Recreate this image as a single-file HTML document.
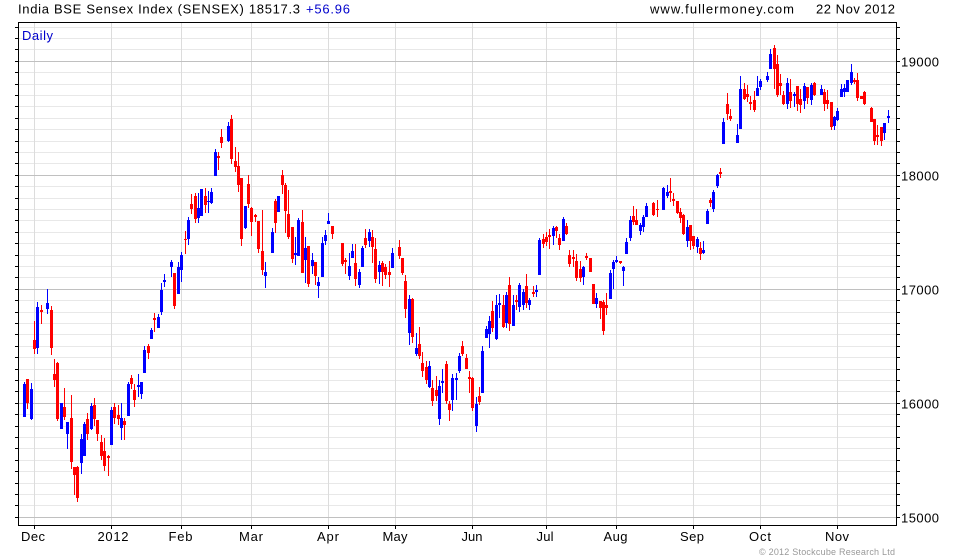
<!DOCTYPE html>
<html><head><meta charset="utf-8"><style>
html,body{margin:0;padding:0;background:#fff;}
svg{display:block;font-family:"Liberation Sans",Arial,sans-serif;}
</style></head><body>
<svg width="980" height="560" viewBox="0 0 980 560" xmlns="http://www.w3.org/2000/svg">
<rect width="980" height="560" fill="#fff"/>
<g shape-rendering="crispEdges" fill="none">
<path stroke="#e8e8e8" stroke-width="1" d="M18 27.5H896M18 38.5H896M18 49.5H896M18 72.5H896M18 84.5H896M18 95.5H896M18 106.5H896M18 118.5H896M18 129.5H896M18 141.5H896M18 152.5H896M18 163.5H896M18 186.5H896M18 198.5H896M18 209.5H896M18 220.5H896M18 232.5H896M18 243.5H896M18 255.5H896M18 266.5H896M18 277.5H896M18 300.5H896M18 312.5H896M18 323.5H896M18 334.5H896M18 346.5H896M18 357.5H896M18 369.5H896M18 380.5H896M18 391.5H896M18 414.5H896M18 426.5H896M18 437.5H896M18 448.5H896M18 460.5H896M18 471.5H896M18 483.5H896M18 494.5H896M18 505.5H896"/>
<path stroke="#dcdcdc" stroke-width="1" d="M34.5 22V525M111.5 22V525M181.5 22V525M251.5 22V525M328.5 22V525M395.5 22V525M472.5 22V525M546.5 22V525M616.5 22V525M693.5 22V525M760.5 22V525M837.5 22V525"/>
<path stroke="#c0c0c0" stroke-width="1" d="M18 61.5H896M18 175.5H896M18 289.5H896M18 403.5H896M18 517.5H896"/>
</g>
<g shape-rendering="crispEdges">
<path fill="#0000ff" d="M24 382h1V417h-1zM23 384h3V417h-3zM31 383h1V420h-1zM30 389h3V419h-3zM37 302h1V354h-1zM36 307h3V348h-3zM47 289h1V314h-1zM46 303h3V309h-3zM61 403h1V429h-1zM60 403h3V429h-3zM67 422h1V449h-1zM66 422h3V434h-3zM81 434h1V474h-1zM80 439h3V463h-3zM84 422h1V456h-1zM83 424h3V456h-3zM91 403h1V430h-1zM90 406h3V429h-3zM111 407h1V445h-1zM110 410h3V445h-3zM121 403h1V440h-1zM120 418h3V428h-3zM128 382h1V416h-1zM127 384h3V416h-3zM138 374h1V397h-1zM137 385h3V387h-3zM141 382h1V399h-1zM140 382h3V394h-3zM144 346h1V373h-1zM143 350h3V373h-3zM151 328h1V339h-1zM150 330h3V339h-3zM158 314h1V328h-1zM157 317h3V328h-3zM161 283h1V315h-1zM160 290h3V312h-3zM164 274h1V287h-1zM163 280h3V282h-3zM171 260h1V277h-1zM170 262h3V267h-3zM178 262h1V294h-1zM177 267h3V294h-3zM181 252h1V282h-1zM180 255h3V270h-3zM188 217h1V245h-1zM187 220h3V239h-3zM198 193h1V223h-1zM197 208h3V218h-3zM201 189h1V216h-1zM200 189h3V216h-3zM208 191h1V213h-1zM207 201h3V202h-3zM211 188h1V204h-1zM210 192h3V203h-3zM215 149h1V176h-1zM214 152h3V176h-3zM228 122h1V142h-1zM227 126h3V141h-3zM245 206h1V229h-1zM244 206h3V228h-3zM265 262h1V288h-1zM264 272h3V276h-3zM272 228h1V253h-1zM271 232h3V253h-3zM278 196h1V212h-1zM277 196h3V212h-3zM295 237h1V265h-1zM294 253h3V255h-3zM298 218h1V256h-1zM297 220h3V256h-3zM305 237h1V283h-1zM304 248h3V260h-3zM312 253h1V274h-1zM311 260h3V266h-3zM318 277h1V298h-1zM317 282h3V286h-3zM322 237h1V277h-1zM321 243h3V277h-3zM325 230h1V245h-1zM324 235h3V241h-3zM328 213h1V224h-1zM327 221h3V224h-3zM349 253h1V280h-1zM348 266h3V276h-3zM352 244h1V258h-1zM351 251h3V258h-3zM359 269h1V288h-1zM358 272h3V285h-3zM362 246h1V267h-1zM361 248h3V267h-3zM369 229h1V247h-1zM368 232h3V241h-3zM379 261h1V284h-1zM378 265h3V272h-3zM392 248h1V268h-1zM391 253h3V268h-3zM409 295h1V345h-1zM408 299h3V333h-3zM416 333h1V356h-1zM415 348h3V354h-3zM429 361h1V388h-1zM428 366h3V387h-3zM439 380h1V425h-1zM438 386h3V419h-3zM442 369h1V393h-1zM441 381h3V383h-3zM452 374h1V411h-1zM451 378h3V400h-3zM456 373h1V400h-1zM455 378h3V380h-3zM459 353h1V373h-1zM458 356h3V371h-3zM476 397h1V432h-1zM475 404h3V426h-3zM482 346h1V393h-1zM481 351h3V393h-3zM486 326h1V338h-1zM485 329h3V338h-3zM489 316h1V348h-1zM488 321h3V334h-3zM496 295h1V340h-1zM495 305h3V339h-3zM499 294h1V318h-1zM498 303h3V305h-3zM506 292h1V328h-1zM505 295h3V323h-3zM513 295h1V326h-1zM512 305h3V326h-3zM519 283h1V312h-1zM518 285h3V307h-3zM523 289h1V310h-1zM522 292h3V305h-3zM529 298h1V310h-1zM528 300h3V305h-3zM536 285h1V297h-1zM535 290h3V292h-3zM539 238h1V275h-1zM538 240h3V275h-3zM553 226h1V245h-1zM552 228h3V236h-3zM563 217h1V241h-1zM562 219h3V241h-3zM583 266h1V285h-1zM582 267h3V277h-3zM596 293h1V308h-1zM595 298h3V304h-3zM610 270h1V299h-1zM609 273h3V299h-3zM613 260h1V289h-1zM612 262h3V269h-3zM616 256h1V263h-1zM615 260h3V262h-3zM623 266h1V286h-1zM622 267h3V271h-3zM626 238h1V254h-1zM625 242h3V254h-3zM630 216h1V241h-1zM629 220h3V238h-3zM640 223h1V235h-1zM639 225h3V231h-3zM643 215h1V232h-1zM642 217h3V227h-3zM646 203h1V217h-1zM645 206h3V217h-3zM663 187h1V210h-1zM662 188h3V210h-3zM667 185h1V198h-1zM666 192h3V196h-3zM687 220h1V247h-1zM686 227h3V241h-3zM697 237h1V253h-1zM696 239h3V247h-3zM703 241h1V254h-1zM702 250h3V253h-3zM707 209h1V224h-1zM706 211h3V224h-3zM713 190h1V212h-1zM712 192h3V209h-3zM717 174h1V188h-1zM716 175h3V186h-3zM723 118h1V144h-1zM722 122h3V144h-3zM737 124h1V143h-1zM736 135h3V143h-3zM740 76h1V129h-1zM739 89h3V129h-3zM757 76h1V96h-1zM756 88h3V96h-3zM760 79h1V90h-1zM759 81h3V87h-3zM767 72h1V82h-1zM766 76h3V80h-3zM770 49h1V69h-1zM769 54h3V69h-3zM787 78h1V109h-1zM786 83h3V104h-3zM794 92h1V107h-1zM793 94h3V96h-3zM804 83h1V109h-1zM803 86h3V101h-3zM811 83h1V105h-1zM810 85h3V100h-3zM821 85h1V95h-1zM820 89h3V95h-3zM834 116h1V130h-1zM833 117h3V126h-3zM837 108h1V121h-1zM836 111h3V120h-3zM841 84h1V97h-1zM840 89h3V97h-3zM844 84h1V97h-1zM843 88h3V92h-3zM847 80h1V92h-1zM846 80h3V92h-3zM851 64h1V85h-1zM850 72h3V83h-3zM884 123h1V140h-1zM883 123h3V133h-3zM888 110h1V123h-1zM887 116h3V118h-3z"/>
<path fill="#ff0000" d="M27 379h1V409h-1zM26 379h3V403h-3zM34 321h1V354h-1zM33 340h3V349h-3zM41 305h1V324h-1zM40 310h3V312h-3zM51 306h1V355h-1zM50 310h3V348h-3zM54 359h1V387h-1zM53 374h3V380h-3zM57 362h1V421h-1zM56 363h3V419h-3zM64 388h1V420h-1zM63 407h3V417h-3zM71 395h1V469h-1zM70 418h3V462h-3zM74 467h1V495h-1zM73 467h3V475h-3zM77 466h1V502h-1zM76 467h3V498h-3zM87 413h1V440h-1zM86 419h3V434h-3zM94 398h1V426h-1zM93 405h3V419h-3zM97 420h1V441h-1zM96 420h3V434h-3zM101 435h1V460h-1zM100 442h3V456h-3zM104 438h1V471h-1zM103 451h3V466h-3zM108 455h1V476h-1zM107 456h3V458h-3zM114 403h1V424h-1zM113 407h3V418h-3zM118 405h1V425h-1zM117 415h3V419h-3zM124 418h1V440h-1zM123 421h3V425h-3zM131 375h1V389h-1zM130 378h3V384h-3zM134 384h1V407h-1zM133 390h3V400h-3zM148 344h1V359h-1zM147 346h3V353h-3zM154 313h1V332h-1zM153 318h3V320h-3zM174 273h1V309h-1zM173 273h3V306h-3zM185 231h1V254h-1zM184 239h3V240h-3zM191 194h1V214h-1zM190 204h3V209h-3zM195 193h1V223h-1zM194 196h3V219h-3zM205 188h1V213h-1zM204 196h3V205h-3zM218 152h1V170h-1zM217 156h3V158h-3zM221 129h1V148h-1zM220 137h3V143h-3zM231 115h1V164h-1zM230 119h3V159h-3zM235 147h1V172h-1zM234 161h3V167h-3zM238 152h1V192h-1zM237 166h3V185h-3zM241 178h1V246h-1zM240 178h3V239h-3zM248 175h1V208h-1zM247 184h3V204h-3zM251 207h1V236h-1zM250 208h3V222h-3zM255 214h1V222h-1zM254 215h3V217h-3zM258 221h1V253h-1zM257 221h3V249h-3zM262 210h1V275h-1zM261 251h3V270h-3zM275 199h1V233h-1zM274 201h3V223h-3zM282 170h1V194h-1zM281 175h3V185h-3zM285 183h1V233h-1zM284 185h3V211h-3zM288 190h1V239h-1zM287 214h3V237h-3zM292 227h1V263h-1zM291 227h3V259h-3zM302 210h1V273h-1zM301 222h3V273h-3zM308 246h1V287h-1zM307 246h3V284h-3zM315 262h1V285h-1zM314 262h3V276h-3zM332 226h1V239h-1zM331 226h3V234h-3zM342 243h1V266h-1zM341 243h3V264h-3zM345 258h1V274h-1zM344 260h3V262h-3zM355 244h1V286h-1zM354 263h3V279h-3zM365 229h1V248h-1zM364 238h3V245h-3zM372 230h1V263h-1zM371 237h3V247h-3zM375 238h1V283h-1zM374 249h3V279h-3zM382 261h1V286h-1zM381 263h3V272h-3zM385 264h1V279h-1zM384 267h3V275h-3zM389 261h1V287h-1zM388 272h3V275h-3zM399 240h1V259h-1zM398 247h3V256h-3zM402 258h1V275h-1zM401 258h3V273h-3zM405 275h1V318h-1zM404 281h3V309h-3zM412 298h1V343h-1zM411 299h3V337h-3zM419 327h1V359h-1zM418 344h3V356h-3zM422 352h1V377h-1zM421 363h3V371h-3zM426 361h1V384h-1zM425 367h3V380h-3zM432 380h1V406h-1zM431 388h3V401h-3zM436 376h1V401h-1zM435 390h3V396h-3zM446 361h1V404h-1zM445 364h3V401h-3zM449 401h1V421h-1zM448 404h3V410h-3zM462 341h1V356h-1zM461 346h3V354h-3zM466 354h1V369h-1zM465 358h3V369h-3zM469 371h1V393h-1zM468 377h3V379h-3zM472 377h1V411h-1zM471 378h3V408h-3zM479 387h1V405h-1zM478 396h3V402h-3zM492 301h1V332h-1zM491 311h3V328h-3zM503 295h1V328h-1zM502 305h3V327h-3zM509 277h1V331h-1zM508 285h3V324h-3zM516 295h1V310h-1zM515 300h3V302h-3zM526 274h1V308h-1zM525 286h3V303h-3zM533 286h1V297h-1zM532 292h3V294h-3zM543 234h1V248h-1zM542 239h3V244h-3zM546 232h1V246h-1zM545 237h3V242h-3zM549 229h1V249h-1zM548 235h3V237h-3zM556 226h1V238h-1zM555 227h3V231h-3zM559 234h1V250h-1zM558 238h3V245h-3zM566 223h1V235h-1zM565 226h3V234h-3zM569 250h1V267h-1zM568 255h3V264h-3zM573 250h1V267h-1zM572 257h3V259h-3zM576 254h1V281h-1zM575 261h3V278h-3zM580 261h1V282h-1zM579 269h3V278h-3zM586 253h1V260h-1zM585 256h3V258h-3zM590 258h1V272h-1zM589 258h3V272h-3zM593 284h1V304h-1zM592 284h3V304h-3zM600 301h1V319h-1zM599 301h3V308h-3zM603 300h1V335h-1zM602 302h3V331h-3zM606 293h1V315h-1zM605 305h3V308h-3zM620 261h1V264h-1zM619 261h3V263h-3zM633 206h1V225h-1zM632 216h3V222h-3zM636 209h1V225h-1zM635 220h3V225h-3zM653 202h1V216h-1zM652 203h3V215h-3zM657 200h1V217h-1zM656 209h3V210h-3zM670 178h1V202h-1zM669 191h3V193h-3zM673 193h1V206h-1zM672 199h3V201h-3zM677 201h1V214h-1zM676 201h3V213h-3zM680 208h1V223h-1zM679 212h3V218h-3zM683 214h1V235h-1zM682 215h3V234h-3zM690 225h1V250h-1zM689 225h3V241h-3zM693 236h1V249h-1zM692 236h3V246h-3zM700 242h1V260h-1zM699 248h3V254h-3zM710 198h1V207h-1zM709 200h3V203h-3zM720 168h1V178h-1zM719 172h3V174h-3zM727 93h1V120h-1zM726 104h3V114h-3zM730 109h1V121h-1zM729 116h3V119h-3zM744 83h1V100h-1zM743 89h3V99h-3zM747 85h1V102h-1zM746 94h3V97h-3zM750 96h1V110h-1zM749 102h3V104h-3zM754 91h1V112h-1zM753 100h3V110h-3zM774 45h1V89h-1zM773 48h3V69h-3zM777 55h1V97h-1zM776 64h3V95h-3zM780 74h1V95h-1zM779 83h3V86h-3zM783 91h1V105h-1zM782 95h3V104h-3zM790 79h1V108h-1zM789 92h3V101h-3zM797 86h1V111h-1zM796 86h3V104h-3zM800 89h1V113h-1zM799 99h3V105h-3zM807 87h1V104h-1zM806 87h3V98h-3zM814 82h1V96h-1zM813 83h3V95h-3zM824 89h1V111h-1zM823 92h3V104h-3zM827 90h1V109h-1zM826 100h3V104h-3zM831 102h1V130h-1zM830 102h3V127h-3zM854 78h1V84h-1zM853 80h3V82h-3zM857 73h1V101h-1zM856 80h3V98h-3zM861 96h1V99h-1zM860 96h3V99h-3zM864 91h1V105h-1zM863 92h3V104h-3zM871 107h1V122h-1zM870 108h3V122h-3zM874 119h1V145h-1zM873 119h3V141h-3zM877 125h1V145h-1zM876 135h3V137h-3zM881 127h1V146h-1zM880 127h3V141h-3z"/>
</g>
<g shape-rendering="crispEdges" fill="none" stroke="#000" stroke-width="1">
<path d="M18 22.5H897M18 525.5H897M18.5 22V526M896.5 22V526"/>
<path d="M15 27.5H18M15 38.5H18M15 49.5H18M15 61.5H18M15 72.5H18M15 84.5H18M15 95.5H18M15 106.5H18M15 118.5H18M15 129.5H18M15 141.5H18M15 152.5H18M15 163.5H18M15 175.5H18M15 186.5H18M15 198.5H18M15 209.5H18M15 220.5H18M15 232.5H18M15 243.5H18M15 255.5H18M15 266.5H18M15 277.5H18M15 289.5H18M15 300.5H18M15 312.5H18M15 323.5H18M15 334.5H18M15 346.5H18M15 357.5H18M15 369.5H18M15 380.5H18M15 391.5H18M15 403.5H18M15 414.5H18M15 426.5H18M15 437.5H18M15 448.5H18M15 460.5H18M15 471.5H18M15 483.5H18M15 494.5H18M15 505.5H18M15 517.5H18"/>
<path d="M897 27.5H900M897 38.5H900M897 49.5H900M897 61.5H900M897 72.5H900M897 84.5H900M897 95.5H900M897 106.5H900M897 118.5H900M897 129.5H900M897 141.5H900M897 152.5H900M897 163.5H900M897 175.5H900M897 186.5H900M897 198.5H900M897 209.5H900M897 220.5H900M897 232.5H900M897 243.5H900M897 255.5H900M897 266.5H900M897 277.5H900M897 289.5H900M897 300.5H900M897 312.5H900M897 323.5H900M897 334.5H900M897 346.5H900M897 357.5H900M897 369.5H900M897 380.5H900M897 391.5H900M897 403.5H900M897 414.5H900M897 426.5H900M897 437.5H900M897 448.5H900M897 460.5H900M897 471.5H900M897 483.5H900M897 494.5H900M897 505.5H900M897 517.5H900"/>
<path d="M34.5 526V529M111.5 526V529M181.5 526V529M251.5 526V529M328.5 526V529M395.5 526V529M472.5 526V529M546.5 526V529M616.5 526V529M693.5 526V529M760.5 526V529M837.5 526V529"/>
</g>
<g font-size="13" fill="#000">
<text x="18" y="13.5" textLength="282" lengthAdjust="spacing">India BSE Sensex Index (SENSEX) 18517.3</text>
<text x="306" y="13.5" fill="#0000cc" textLength="44" lengthAdjust="spacing">+56.96</text>
<text x="650" y="13.5" textLength="144" lengthAdjust="spacing">www.fullermoney.com</text>
<text x="816" y="13.5" textLength="79" lengthAdjust="spacing">22 Nov 2012</text>
<text x="22" y="40" fill="#0000cc" textLength="31" lengthAdjust="spacing">Daily</text>
<text x="901" y="66.5" textLength="38" lengthAdjust="spacing">19000</text>
<text x="901" y="180.5" textLength="38" lengthAdjust="spacing">18000</text>
<text x="901" y="294.5" textLength="38" lengthAdjust="spacing">17000</text>
<text x="901" y="408.5" textLength="38" lengthAdjust="spacing">16000</text>
<text x="901" y="522.5" textLength="38" lengthAdjust="spacing">15000</text>
<g text-anchor="middle">
<text x="33" y="541" textLength="24" lengthAdjust="spacing">Dec</text>
<text x="113" y="541" textLength="31" lengthAdjust="spacing">2012</text>
<text x="180.5" y="541" textLength="24" lengthAdjust="spacing">Feb</text>
<text x="251" y="541" textLength="24" lengthAdjust="spacing">Mar</text>
<text x="328" y="541" textLength="22" lengthAdjust="spacing">Apr</text>
<text x="395" y="541" textLength="25" lengthAdjust="spacing">May</text>
<text x="472" y="541" textLength="21" lengthAdjust="spacing">Jun</text>
<text x="545" y="541" textLength="17" lengthAdjust="spacing">Jul</text>
<text x="615.5" y="541" textLength="24" lengthAdjust="spacing">Aug</text>
<text x="692" y="541" textLength="24" lengthAdjust="spacing">Sep</text>
<text x="760" y="541" textLength="22" lengthAdjust="spacing">Oct</text>
<text x="837" y="541" textLength="24" lengthAdjust="spacing">Nov</text>
</g>
</g>
<text x="759" y="555" font-size="9" fill="#999" textLength="136" lengthAdjust="spacing">© 2012 Stockcube Research Ltd</text>
</svg>
</body></html>
